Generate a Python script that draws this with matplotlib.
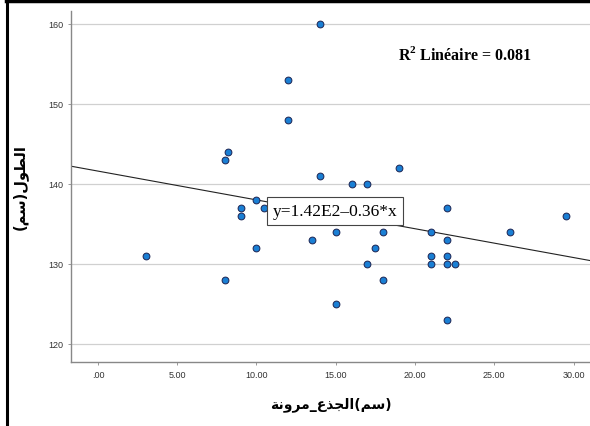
import matplotlib
matplotlib.use("Agg")
import matplotlib.pyplot as plt
from matplotlib.lines import Line2D

# trunk flexibility (cm) vs height (cm)
flex = [3, 8, 8.2, 8, 9, 9, 10, 10, 10.5, 12, 12, 13.5, 14, 14, 15, 15, 16, 17,
        17, 17.5, 18, 18, 19, 21, 21, 21, 22, 22, 22, 22, 22, 22.5, 26, 29.5]
height = [131, 143, 144, 128, 137, 136, 138, 132, 137, 153, 148, 133, 160, 141,
          134, 125, 140, 140, 130, 132, 128, 134, 142, 134, 131, 130, 137, 133,
          131, 130, 123, 130, 134, 136]

intercept = 141.6
slope = -0.36
r2_text = r"R$^{\mathbf{2}}$ Linéaire = 0.081"
eq_text = "y=1.42E2\u20130.36*x"

x_ticks = [0, 5, 10, 15, 20, 25, 30]
x_tick_labels = [".00", "5.00", "10.00", "15.00", "20.00", "25.00", "30.00"]
y_ticks = [120, 130, 140, 150, 160]

# presentation forms: isolated, final, initial, medial
FORMS = {
    "\u0627": ("\uFE8D", "\uFE8E", None, None),        # alef
    "\u0644": ("\uFEDD", "\uFEDE", "\uFEDF", "\uFEE0"),  # lam
    "\u0637": ("\uFEC1", "\uFEC2", "\uFEC3", "\uFEC4"),  # tah
    "\u0648": ("\uFEED", "\uFEEE", None, None),        # waw
    "\u0633": ("\uFEB1", "\uFEB2", "\uFEB3", "\uFEB4"),  # seen
    "\u0645": ("\uFEE1", "\uFEE2", "\uFEE3", "\uFEE4"),  # meem
    "\u0631": ("\uFEAD", "\uFEAE", None, None),        # reh
    "\u0646": ("\uFEE5", "\uFEE6", "\uFEE7", "\uFEE8"),  # noon
    "\u0629": ("\uFE93", "\uFE94", None, None),        # teh marbuta
    "\u062C": ("\uFE9D", "\uFE9E", "\uFE9F", "\uFEA0"),  # jeem
    "\u0630": ("\uFEAB", "\uFEAC", None, None),        # thal
    "\u0639": ("\uFEC9", "\uFECA", "\uFECB", "\uFECC"),  # ain
}


def shape(word):
    out = []
    for i, c in enumerate(word):
        if c not in FORMS:
            out.append(c)
            continue
        prev = word[i - 1] if i > 0 else None
        nxt = word[i + 1] if i + 1 < len(word) else None
        iso, fin, ini, med = FORMS[c]
        jp = prev in FORMS and FORMS[prev][2] is not None
        jn = ini is not None and nxt in FORMS
        if jp and jn:
            out.append(med)
        elif jp:
            out.append(fin)
        elif jn:
            out.append(ini)
        else:
            out.append(iso)
    return "".join(reversed(out))


x_label = shape("مرونة") + "_" + shape("الجذع") + "(" + shape("سم") + ")"
y_label = "(" + shape("سم") + ")" + shape("الطول")

plt.rcParams["mathtext.fontset"] = "custom"
plt.rcParams["mathtext.rm"] = "Liberation Serif:bold"
plt.rcParams["mathtext.bf"] = "Liberation Serif:bold"

fig = plt.figure(figsize=(5.9, 4.27), dpi=100)
ax = fig.add_axes([71 / 590, 64 / 427, 1 - 71 / 590, 351 / 427])

ax.scatter(flex, height, s=24, color="#1a7fd4", edgecolors="#1c2452",
           linewidths=0.7, zorder=3)

xlim = (-1.70, 31.04)
ax.plot(xlim, [intercept + slope * v for v in xlim], color="#222222", lw=0.8, zorder=2)
ax.set_xlim(xlim)
ax.set_ylim(117.75, 161.6)

ax.set_xticks(x_ticks)
ax.set_xticklabels(x_tick_labels)
ax.set_yticks(y_ticks)
ax.grid(axis="y", color="#d0d0d0", lw=0.9, zorder=0)
ax.tick_params(axis="both", length=2.5, width=0.6, color="#888888",
               labelsize=6.5, labelcolor="#333333", pad=3)
for lab in ax.get_xticklabels() + ax.get_yticklabels():
    lab.set_fontfamily("Liberation Sans")
for side in ["top", "right"]:
    ax.spines[side].set_visible(False)
for side in ["left", "bottom"]:
    ax.spines[side].set_color("#888888")
    ax.spines[side].set_linewidth(1.0)

ax.set_xlabel(x_label, fontsize=10, fontweight="bold", labelpad=13)
ax.set_ylabel(y_label, fontsize=10.5, fontweight="bold", labelpad=15)

ax.text((398 - 71) / 519, 1 - (55 - 12) / 351, r2_text, transform=ax.transAxes,
        fontsize=11.5, fontfamily="Liberation Serif", fontweight="bold",
        va="center", ha="left")
ax.text((335 - 71) / 519, 1 - (212 - 12) / 351, eq_text,
        transform=ax.transAxes, fontsize=12.5, fontfamily="Liberation Serif",
        ha="center", va="center", zorder=5,
        bbox=dict(boxstyle="square,pad=0.32", fc="white", ec="#444444", lw=0.8))

# page frame around the chart
fig.add_artist(Line2D([7 / 590, 7 / 590], [0, 1 - 3 / 427], color="black", lw=2.2))
fig.add_artist(Line2D([6 / 590, 1], [1 - 2 / 427, 1 - 2 / 427], color="black", lw=2.5))

fig.savefig("out.png", dpi=100)
